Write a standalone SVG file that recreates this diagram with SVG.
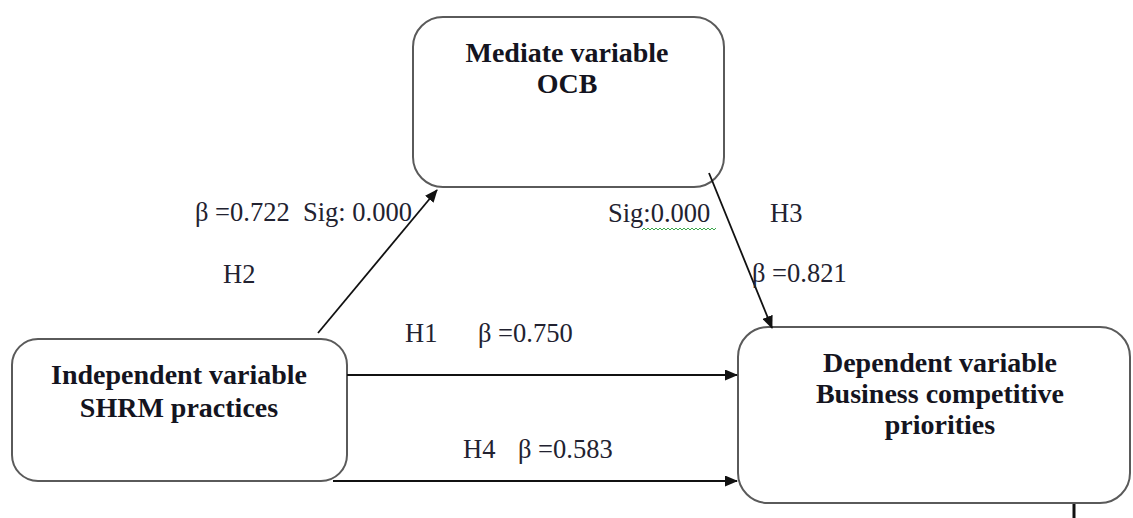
<svg xmlns="http://www.w3.org/2000/svg" width="1133" height="518" viewBox="0 0 1133 518">
<defs>
<style>
.box{fill:#fff;stroke:#5a5a5a;stroke-width:2}
.b{font-family:'Liberation Serif','DejaVu Serif',serif;font-weight:bold;font-size:28px;fill:#141420;text-anchor:middle}
.t{font-family:'Liberation Serif','DejaVu Serif',serif;font-size:26.5px;fill:#222230}
.c{stroke:#111;stroke-width:1.8;fill:none}
</style>
<marker id="ah" markerWidth="13" markerHeight="11" refX="12" refY="5.5" orient="auto" markerUnits="userSpaceOnUse">
<path d="M0,0 L13,5.5 L0,11 Z" fill="#111"/>
</marker>
</defs>
<rect width="1133" height="518" fill="#fff"/>
<g id="node-ocb">
<rect class="box" x="413" y="17" width="311" height="170" rx="30"/>
<text class="b" x="567" y="62">Mediate variable</text>
<text class="b" x="567" y="93">OCB</text>
</g>
<g id="node-shrm">
<rect class="box" x="12" y="339" width="335" height="142" rx="26"/>
<text class="b" x="179" y="384">Independent variable</text>
<text class="b" x="179" y="417">SHRM practices</text>
</g>
<g id="node-bcp">
<rect class="box" x="738" y="327" width="392" height="176" rx="30"/>
<text class="b" x="940" y="372">Dependent variable</text>
<text class="b" x="940" y="403">Business competitive</text>
<text class="b" x="940" y="434">priorities</text>
</g>
<g id="connectors">
<line class="c" x1="318" y1="333" x2="437" y2="190" marker-end="url(#ah)"/>
<line class="c" x1="709" y1="173" x2="772" y2="328" marker-end="url(#ah)"/>
<line class="c" x1="347" y1="375" x2="737" y2="375" marker-end="url(#ah)"/>
<line class="c" x1="333" y1="481" x2="737" y2="481" marker-end="url(#ah)"/>
<line x1="1074" y1="504" x2="1074" y2="518" stroke="#111" stroke-width="3"/>
</g>
<g id="labels">
<text class="t" x="195" y="221" xml:space="preserve">β =0.722  Sig: 0.000</text>
<text class="t" x="223" y="283">H2</text>
<text class="t" x="608" y="222">Sig:0.000</text>
<path d="M642,230 l2,-2 l2,2 l2,-2 l2,2 l2,-2 l2,2 l2,-2 l2,2 l2,-2 l2,2 l2,-2 l2,2 l2,-2 l2,2 l2,-2 l2,2 l2,-2 l2,2 l2,-2 l2,2 l2,-2 l2,2 l2,-2 l2,2 l2,-2 l2,2 l2,-2 l2,2 l2,-2 l2,2 l2,-2 l2,2 l2,-2 l2,2 l2,-2 l2,2 l2,-2" stroke="#3aa84a" stroke-width="1" fill="none"/>
<text class="t" x="770" y="222">H3</text>
<text class="t" x="752" y="282">β =0.821</text>
<text class="t" x="405" y="342">H1</text>
<text class="t" x="478" y="342">β =0.750</text>
<text class="t" x="463" y="458">H4</text>
<text class="t" x="518" y="458">β =0.583</text>
</g>
</svg>
